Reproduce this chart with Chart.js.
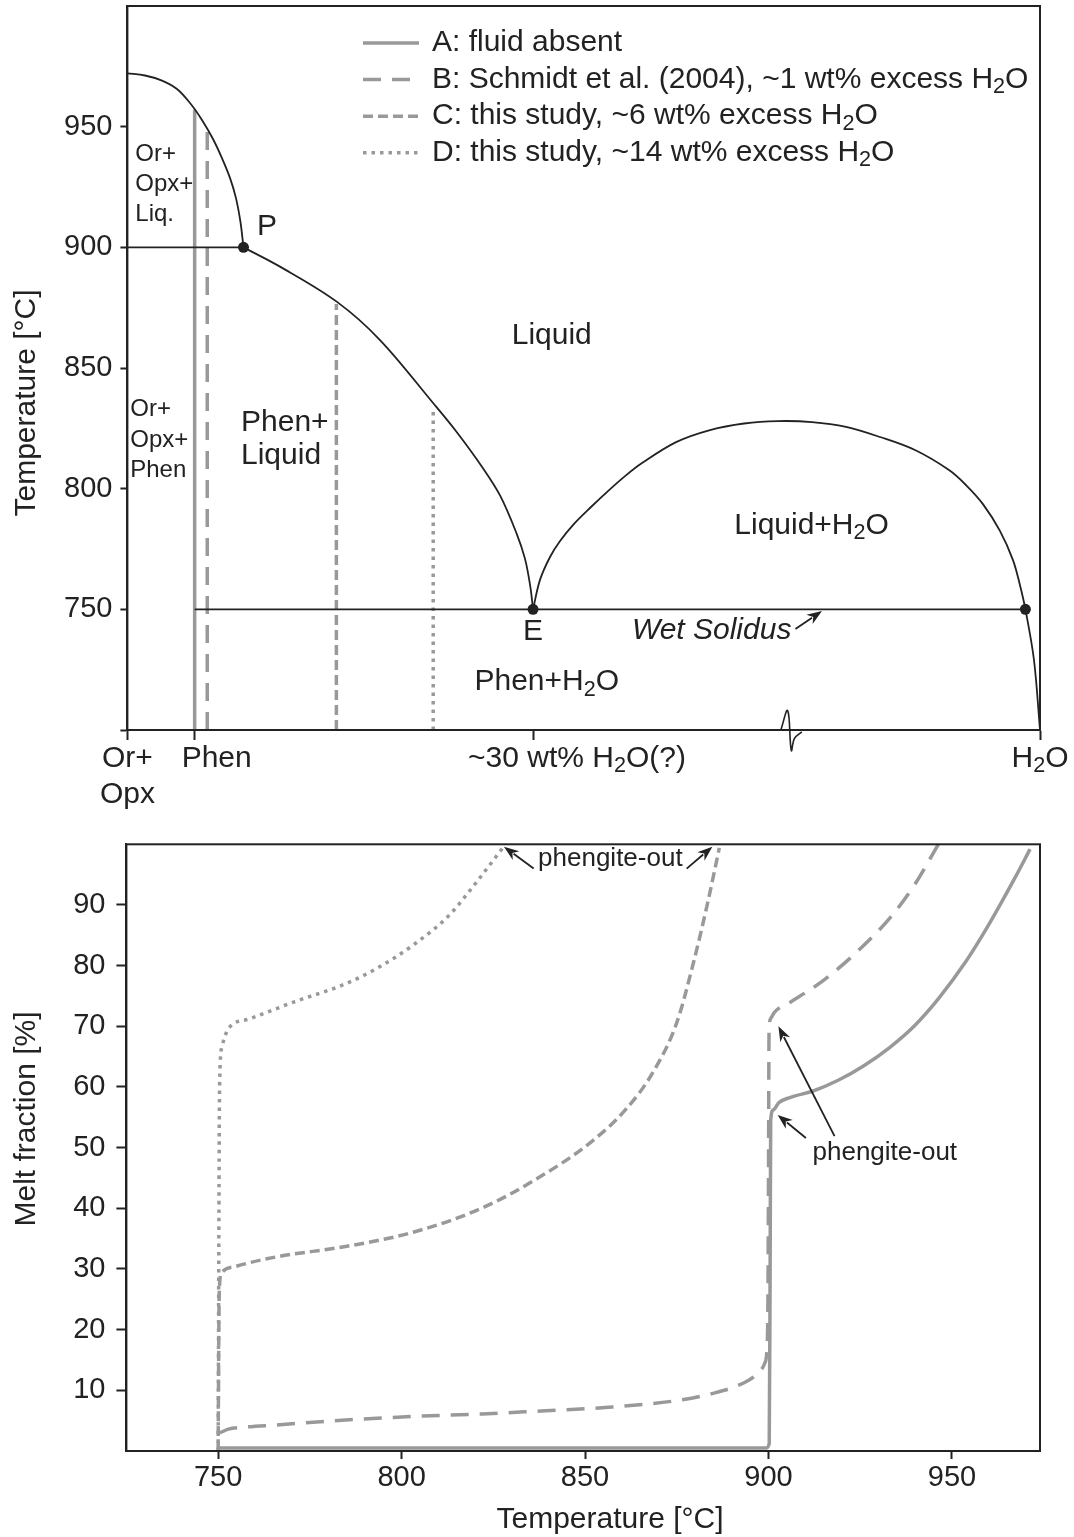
<!DOCTYPE html>
<html>
<head>
<meta charset="utf-8">
<script src="https://cdn.jsdelivr.net/npm/chart.js@4.4.1/dist/chart.umd.min.js"></script>
<style>
  body { margin: 0; background: #fff; }
  #wrap { position: relative; width: 1074px; height: 1537px; }
  canvas { position: absolute; left: 0; }
</style>
</head>
<body>
<div id="wrap">
  <canvas id="phase" width="1074" height="820" style="top:0"></canvas>
  <canvas id="melt" width="1074" height="717" style="top:820px"></canvas>
</div>
<script>
var FONT = '"Liberation Sans", Arial, Helvetica, sans-serif';
var INK = '#222';
var GREY = '#999';

// ---------- top panel: schematic phase diagram ----------
var compTicks = [0, 0.0737, 0.4445, 1];
var compTickLabels = [['Or+', 'Opx'], ['Phen'], ['~30 wt% H₂O(?)'], ['H₂O']];
var tempTicks = [700, 750, 800, 850, 900, 950];

// liquidus Or+Opx+Liq / Liquid
var liqOrX = [0, 0.0193, 0.0379, 0.0543, 0.0686, 0.0817, 0.0938, 0.1036, 0.1124, 0.1189, 0.1239, 0.1272];
var liqOrT = [972.1, 971.2, 969.1, 965.6, 959.8, 952.8, 944.9, 937, 928.8, 920.5, 910.5, 900];
// liquidus Phen+Liquid / Liquid
var liqPhenX = [0.1272, 0.1672, 0.2293, 0.2768, 0.3352, 0.3608, 0.3885, 0.4083, 0.4264, 0.4357, 0.4415, 0.4445];
var liqPhenT = [900, 892, 877.5, 861.6, 835.4, 823.5, 809.1, 797.2, 781.5, 770.9, 759.4, 750];
// Liquid+H2O field
var domeX = [0.4445, 0.4521, 0.4631, 0.4741, 0.4894, 0.508, 0.5266, 0.5453, 0.5639, 0.6012, 0.6384, 0.6757, 0.7129,
             0.7502, 0.7874, 0.8247, 0.863, 0.9003, 0.9189, 0.9375, 0.9561, 0.9704, 0.978, 0.984, 0.9934, 1];
var domeT = [750, 762.2, 771.7, 778.3, 785.4, 792.4, 799, 805.2, 810.6, 819.3, 824.3, 827, 828,
             827.6, 825.6, 821.4, 816, 807.7, 801.5, 793.6, 782.5, 770.4, 760.1, 750, 729, 700];
var periX = [0, 0.1272];
var periT = [900, 900];
var solidusX = [0.0737, 0.984];
var solidusT = [750, 750];
// bulk compositions A-D
var bulkX = [0.0737, 0.0875, 0.229, 0.3351];
var bulkTopT = [957, 949, 876.5, 833.5];
var bulkBaseT = 700;
var invX = [0.1272, 0.4445, 0.984];
var invT = [900, 750, 750];
var breakX = [0.716, 0.7235, 0.7275, 0.731, 0.739];
var breakT = [700, 708, 691.5, 696.5, 699.2];

// ---------- bottom panel: melt fraction vs temperature ----------
var meltTempTicks = [750, 800, 850, 900, 950];
var meltTicks = [10, 20, 30, 40, 50, 60, 70, 80, 90];
var seriesLabels = [
  'A: fluid absent',
  'B: Schmidt et al. (2004), ~1 wt% excess H₂O',
  'C: this study, ~6 wt% excess H₂O',
  'D: this study, ~14 wt% excess H₂O'
];
var aT = [750, 899.4, 900.2, 900.45, 900.6, 901.3, 902.8, 906, 912, 919, 926, 933, 939.8, 946.5, 953.7, 958.5, 963, 967.2, 971.3];
var aMelt = [0.5, 0.5, 1.2, 30, 54.5, 56.2, 57.4, 58.3, 59.3, 61.1, 63.5, 66.5, 70.1, 74.7, 80.6, 85.2, 89.9, 94.5, 99.2];
var bT = [750.5, 752.8, 756.5, 766, 784.7, 803.4, 822, 838, 856.4, 874.9, 884.2, 893.5, 897, 899, 899.6, 899.85, 900, 900.15, 900.6, 901.6, 905.5, 914.8, 924, 933.3, 939.8, 946.3];
var bMelt = [3, 3.6, 3.9, 4.3, 5.1, 5.7, 6.1, 6.6, 7.2, 8.3, 9.4, 11.3, 12.8, 14.5, 17, 25, 45, 69, 71.3, 72.3, 73.8, 77.5, 82.2, 88, 93.3, 100];
var cT = [750, 750.3, 750.9, 754.7, 765.9, 784.7, 803.4, 822.1, 836.1, 851.8, 861.1, 868.5, 875, 879.6, 883.4, 886.6];
var cMelt = [0, 26, 29.3, 30.4, 32, 33.7, 36.1, 40.1, 44.6, 51, 56.3, 62.4, 70.6, 80.6, 90.3, 99.4];
var dT = [750, 750.4, 751, 752.8, 758.4, 770.6, 784.7, 794, 803.4, 812.8, 820.2, 827.8];
var dMelt = [0, 60, 66.5, 69.6, 71.2, 74, 77, 79.8, 83.5, 88.2, 93.6, 99.6];

var lineStyles = [
  { borderDash: [], borderWidth: 3.5 },
  { borderDash: [18, 11], borderWidth: 3.5 },
  { borderDash: [10, 5], borderWidth: 3.5 },
  { borderDash: [3.5, 5], borderWidth: 3.5 }
];

function pts(xs, ys) {
  return xs.map(function (x, i) { return { x: x, y: ys[i] }; });
}

// text with real subscript digits (₂)
function richText(ctx, str, x, y, size, align, italic) {
  var parts = [];
  for (var ch of str) {
    var sub = ch === '₂';
    var t = sub ? '2' : ch;
    var last = parts[parts.length - 1];
    if (last && last.sub === sub) last.t += t; else parts.push({ t: t, sub: sub });
  }
  var font = function (s) { return (italic ? 'italic ' : '') + s + 'px ' + FONT; };
  var w = 0;
  parts.forEach(function (p) {
    ctx.font = font(p.sub ? size * 0.72 : size);
    p.w = ctx.measureText(p.t).width;
    w += p.w;
  });
  var cx = align === 'center' ? x - w / 2 : align === 'right' ? x - w : x;
  ctx.textAlign = 'left';
  ctx.textBaseline = 'middle';
  ctx.fillStyle = INK;
  parts.forEach(function (p) {
    ctx.font = font(p.sub ? size * 0.72 : size);
    ctx.fillText(p.t, cx, p.sub ? y + size * 0.25 : y);
    cx += p.w;
  });
}

function arrow(ctx, x1, y1, x2, y2) {
  var ang = Math.atan2(y2 - y1, x2 - x1);
  var len = 15, half = 5.5;
  ctx.strokeStyle = INK;
  ctx.fillStyle = INK;
  ctx.lineWidth = 1.8;
  ctx.setLineDash([]);
  ctx.beginPath();
  ctx.moveTo(x1, y1);
  ctx.lineTo(x2 - Math.cos(ang) * len * 0.8, y2 - Math.sin(ang) * len * 0.8);
  ctx.stroke();
  ctx.beginPath();
  ctx.moveTo(x2, y2);
  ctx.lineTo(x2 - Math.cos(ang) * len + Math.sin(ang) * half, y2 - Math.sin(ang) * len - Math.cos(ang) * half);
  ctx.lineTo(x2 - Math.cos(ang) * len * 0.7, y2 - Math.sin(ang) * len * 0.7);
  ctx.lineTo(x2 - Math.cos(ang) * len - Math.sin(ang) * half, y2 - Math.sin(ang) * len + Math.cos(ang) * half);
  ctx.closePath();
  ctx.fill();
}

var decor = {
  id: 'decor',
  beforeDraw: function (chart) {
    var ctx = chart.ctx;
    ctx.save();
    ctx.fillStyle = '#fff';
    ctx.fillRect(0, 0, chart.width, chart.height);
    ctx.restore();
  },
  afterDraw: function (chart, args, o) {
    var ctx = chart.ctx, ca = chart.chartArea;
    var sx = chart.scales.x, sy = chart.scales.y;
    ctx.save();
    ctx.strokeStyle = INK;
    ctx.lineWidth = 2;
    ctx.setLineDash([]);
    ctx.strokeRect(ca.left, ca.top, ca.right - ca.left, ca.bottom - ca.top);

    (o.texts || []).forEach(function (t) {
      richText(ctx, t.text, sx.getPixelForValue(t.x), sy.getPixelForValue(t.y), t.size, t.align, t.italic);
    });
    (o.arrows || []).forEach(function (a) {
      arrow(ctx, sx.getPixelForValue(a[0]), sy.getPixelForValue(a[1]), sx.getPixelForValue(a[2]), sy.getPixelForValue(a[3]));
    });
    if (o.xLabels) {
      o.xLabels.labels.forEach(function (lines, i) {
        var px = sx.getPixelForValue(o.xLabels.values[i]) + o.xLabels.dx[i];
        lines.forEach(function (line, j) {
          richText(ctx, line, px, o.xLabels.y + j * 36, 30, o.xLabels.align[i]);
        });
      });
    }
    if (o.yTitle) {
      ctx.save();
      ctx.translate(o.yTitle.x, o.yTitle.y);
      ctx.rotate(-Math.PI / 2);
      richText(ctx, o.yTitle.text, 0, 0, 30, 'center');
      ctx.restore();
    }
    if (o.xTitle) richText(ctx, o.xTitle.text, o.xTitle.x, o.xTitle.y, 30, 'center');
    if (o.legend) {
      o.legend.labels.forEach(function (lab, i) {
        var y = o.legend.y + i * o.legend.step;
        ctx.strokeStyle = GREY;
        ctx.lineWidth = lineStyles[i].borderWidth;
        ctx.setLineDash(lineStyles[i].borderDash);
        ctx.beginPath();
        ctx.moveTo(o.legend.x0, y);
        ctx.lineTo(o.legend.x1, y);
        ctx.stroke();
        ctx.setLineDash([]);
        richText(ctx, lab, o.legend.tx, y, 30, 'left');
      });
    }
    ctx.restore();
  }
};

function noPad(s) {
  s.paddingTop = 0;
  s.paddingBottom = 0;
  s.paddingLeft = 0;
  s.paddingRight = 0;
}

function curve(xs, ys, extra) {
  return Object.assign({
    data: pts(xs, ys),
    borderColor: INK,
    borderWidth: 1.8,
    pointRadius: 0,
    fill: false,
    tension: 0.35
  }, extra || {});
}

function bulkLine(i) {
  return {
    data: pts([bulkX[i], bulkX[i]], [bulkBaseT, bulkTopT[i]]),
    borderColor: GREY,
    borderWidth: lineStyles[i].borderWidth,
    borderDash: lineStyles[i].borderDash,
    pointRadius: 0,
    fill: false,
    tension: 0
  };
}

function meltLine(i, xs, ys) {
  return {
    data: pts(xs, ys),
    borderColor: GREY,
    borderWidth: lineStyles[i].borderWidth,
    borderDash: lineStyles[i].borderDash,
    pointRadius: 0,
    fill: false,
    cubicInterpolationMode: 'monotone'
  };
}

Chart.defaults.font.family = FONT;
Chart.defaults.color = INK;

var chartPhase = new Chart(
  document.getElementById('phase'),
  {
    type: 'line',
    data: {
      datasets: [
        {
          data: pts(invX, invT),
          showLine: false,
          pointRadius: 5.5,
          pointBackgroundColor: INK,
          pointBorderWidth: 0
        },
        curve(liqOrX, liqOrT),
        curve(liqPhenX, liqPhenT),
        curve(domeX, domeT),
        curve(periX, periT, { tension: 0 }),
        curve(solidusX, solidusT, { tension: 0 }),
        curve(breakX, breakT, { clip: false, borderWidth: 1.6, tension: 0.4 }),
        bulkLine(0),
        bulkLine(1),
        bulkLine(2),
        bulkLine(3)
      ]
    },
    options: {
      responsive: false,
      animation: false,
      events: [],
      devicePixelRatio: 1,
      layout: { padding: { top: 6, right: 34, left: 0, bottom: 0 } },
      scales: {
        x: {
          type: 'linear',
          min: 0,
          max: 1,
          afterBuildTicks: function (s) { s.ticks = compTicks.map(function (v) { return { value: v }; }); },
          afterFit: function (s) { s.height = 90; noPad(s); },
          ticks: { display: false },
          grid: { drawOnChartArea: false, tickLength: 10, tickColor: INK, tickWidth: 2 },
          border: { color: INK, width: 2 }
        },
        y: {
          type: 'linear',
          min: 700,
          max: 1000,
          afterBuildTicks: function (s) { s.ticks = tempTicks.map(function (v) { return { value: v }; }); },
          afterFit: function (s) { s.width = 127.4; noPad(s); },
          ticks: {
            font: { size: 29 },
            color: INK,
            padding: 8,
            callback: function (v) { return v === 700 ? '' : String(v); }
          },
          grid: { drawOnChartArea: false, tickLength: 7, tickColor: INK, tickWidth: 2 },
          border: { color: INK, width: 2 }
        }
      },
      plugins: {
        legend: { display: false },
        tooltip: { enabled: false },
        decor: {
          yTitle: { text: 'Temperature [°C]', x: 27, y: 403 },
          xLabels: {
            values: compTicks,
            labels: compTickLabels,
            dx: [0, -13, -65, 0],
            align: ['center', 'left', 'left', 'center'],
            y: 759
          },
          legend: { labels: seriesLabels, x0: 363, x1: 419, tx: 432, y: 43, step: 36.6 },
          texts: [
            { text: 'Or+', x: 0.0087, y: 938.6, size: 24, align: 'left' },
            { text: 'Opx+', x: 0.0087, y: 926.2, size: 24, align: 'left' },
            { text: 'Liq.', x: 0.0087, y: 913.8, size: 24, align: 'left' },
            { text: 'P', x: 0.153, y: 908.4, size: 30, align: 'center' },
            { text: 'Liquid', x: 0.465, y: 863.3, size: 30, align: 'center' },
            { text: 'Or+', x: 0.0031, y: 833, size: 24, align: 'left' },
            { text: 'Opx+', x: 0.0031, y: 819.9, size: 24, align: 'left' },
            { text: 'Phen', x: 0.0031, y: 807.5, size: 24, align: 'left' },
            { text: 'Phen+', x: 0.1245, y: 827.5, size: 30, align: 'left' },
            { text: 'Liquid', x: 0.1245, y: 813.7, size: 30, align: 'left' },
            { text: 'E', x: 0.4445, y: 740.6, size: 30, align: 'center' },
            { text: 'Phen+H₂O', x: 0.3803, y: 719.8, size: 30, align: 'left' },
            { text: 'Liquid+H₂O', x: 0.665, y: 784.7, size: 30, align: 'left' },
            { text: 'Wet Solidus', x: 0.5528, y: 741.2, size: 30, align: 'left', italic: true }
          ],
          arrows: [[0.732, 741.9, 0.7611, 749.3]]
        }
      }
    },
    plugins: [decor]
  }
);

var chartMelt = new Chart(
  document.getElementById('melt'),
  {
    type: 'line',
    data: {
      datasets: [
        meltLine(0, aT, aMelt),
        meltLine(1, bT, bMelt),
        meltLine(2, cT, cMelt),
        meltLine(3, dT, dMelt)
      ]
    },
    options: {
      responsive: false,
      animation: false,
      events: [],
      devicePixelRatio: 1,
      layout: { padding: { top: 24.3, right: 34, left: 0, bottom: 0 } },
      scales: {
        x: {
          type: 'linear',
          min: 725,
          max: 974,
          afterBuildTicks: function (s) { s.ticks = meltTempTicks.map(function (v) { return { value: v }; }); },
          afterFit: function (s) { s.height = 86; noPad(s); },
          ticks: { font: { size: 29 }, color: INK, padding: 2 },
          grid: { drawOnChartArea: false, tickLength: 8, tickColor: INK, tickWidth: 2 },
          border: { color: INK, width: 2 }
        },
        y: {
          type: 'linear',
          min: 0,
          max: 100,
          afterBuildTicks: function (s) { s.ticks = meltTicks.map(function (v) { return { value: v }; }); },
          afterFit: function (s) { s.width = 126.4; noPad(s); },
          ticks: { font: { size: 29 }, color: INK, padding: 11 },
          grid: { drawOnChartArea: false, tickLength: 10, tickColor: INK, tickWidth: 2 },
          border: { color: INK, width: 2 }
        }
      },
      plugins: {
        legend: { display: false },
        tooltip: { enabled: false },
        decor: {
          yTitle: { text: 'Melt fraction [%]', x: 27, y: 299 },
          xTitle: { text: 'Temperature [°C]', x: 610, y: 700 },
          texts: [
            { text: 'phengite-out', x: 856.9, y: 97.6, size: 26, align: 'center' },
            { text: 'phengite-out', x: 912.0, y: 49.2, size: 26, align: 'left' }
          ],
          arrows: [
            [836, 96, 827.9, 99.6],
            [877.7, 96, 884.7, 99.6],
            [910.2, 51.6, 902.5, 55.4],
            [918.0, 51.9, 902.7, 70]
          ]
        }
      }
    },
    plugins: [decor]
  }
);
</script>
</body>
</html>
